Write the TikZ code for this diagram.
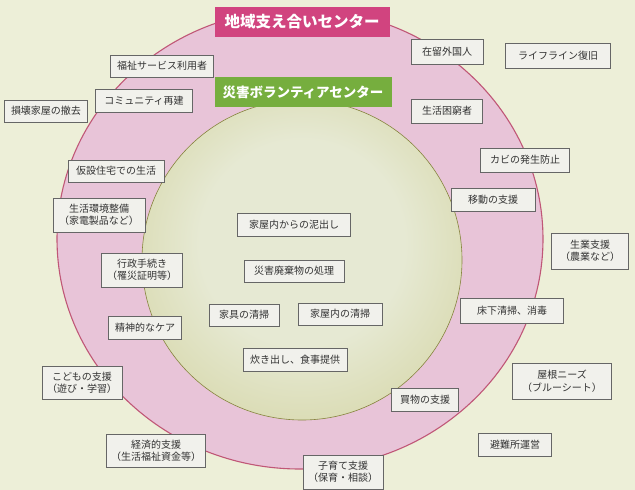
\documentclass[tikz,border=0pt]{standalone}
\usepackage{fontspec}
\setmainfont{Noto Sans CJK JP}
\usetikzlibrary{shadings}
\definecolor{bg}{HTML}{EDEFD8}
\definecolor{ringfill}{HTML}{E8C4D8}
\definecolor{ringline}{HTML}{C05777}
\definecolor{gin}{HTML}{E6E9D3}
\definecolor{gmid}{HTML}{D8D9AE}
\definecolor{gmid2}{HTML}{C3BE7C}
\definecolor{gout}{HTML}{A9A252}
\definecolor{gline}{HTML}{86843E}
\definecolor{magbox}{HTML}{D1447F}
\definecolor{grnbox}{HTML}{76AE3E}
\definecolor{boxfill}{HTML}{F1F1EC}
\definecolor{boxline}{HTML}{666666}
\definecolor{boxtext}{HTML}{333333}
\pgfdeclareradialshading{greenball}{\pgfpoint{0bp}{4bp}}{color(0bp)=(gin); color(16bp)=(gin); color(30bp)=(gmid); color(42bp)=(gmid2); color(50bp)=(gout)}
\tikzset{
  item/.style={draw=boxline, fill=boxfill, line width=0.8pt, text=boxtext,
    font=\fontsize{10}{12.5}\selectfont, align=center, inner sep=0pt},
  titlebox/.style={text=white, inner sep=0pt, font=\bfseries\fontsize{15.5}{18}\selectfont},
}
\begin{document}
\begin{tikzpicture}[x=1pt,y=-1pt]
\useasboundingbox (0,0) rectangle (635,490);
\fill[bg] (0,0) rectangle (635,490);
% outer ring
\draw[ringline, fill=ringfill, line width=1.1pt] (300,239) ellipse [x radius=243, y radius=230];
% inner circle
\shade[shading=greenball] (302,260) circle [radius=160];
\draw[gline, line width=0.6pt] (302,260) circle [radius=160];
% titles
\node[titlebox, fill=magbox, minimum width=175pt, minimum height=30pt] (chiiki) at (302,22) {地域支え合いセンター};
\node[titlebox, fill=grnbox, minimum width=177pt, minimum height=30pt, font=\bfseries\fontsize{13.5}{16}\selectfont] (saigai) at (303,92) {災害ボランティアセンター};
% items
\node[item, minimum width=103pt, minimum height=22pt] (fukushi) at (162,66) {福祉サービス利用者};
\node[item, minimum width=97pt, minimum height=23pt] (community) at (144,101) {コミュニティ再建};
\node[item, minimum width=83pt, minimum height=22pt] (sonkai) at (46,111) {損壊家屋の撤去};
\node[item, minimum width=72pt, minimum height=25pt] (zairyu) at (447,52) {在留外国人};
\node[item, minimum width=105pt, minimum height=25pt] (lifeline) at (558,56) {ライフライン復旧};
\node[item, minimum width=71pt, minimum height=24pt] (konkyu) at (447,111) {生活困窮者};
\node[item, minimum width=89pt, minimum height=24pt] (kabi) at (525,160) {カビの発生防止};
\node[item, minimum width=84pt, minimum height=23pt] (ido) at (493,200) {移動の支援};
\node[item, minimum width=77pt, minimum height=36pt] (nariwai) at (590,251) {生業支援\\（農業など）};
\node[item, minimum width=103pt, minimum height=25pt] (yukashita) at (512,311) {床下清掃、消毒};
\node[item, minimum width=96pt, minimum height=22pt] (kasetsu) at (116,171) {仮設住宅での生活};
\node[item, minimum width=92pt, minimum height=34pt] (kankyo) at (99,215) {生活環境整備\\（家電製品など）};
\node[item, minimum width=81pt, minimum height=34pt] (gyosei) at (142,270) {行政手続き\\（罹災証明等）};
\node[item, minimum width=113pt, minimum height=23pt] (doro) at (294,225) {家屋内からの泥出し};
\node[item, minimum width=100pt, minimum height=22pt] (haiki) at (294,271) {災害廃棄物の処理};
\node[item, minimum width=70pt, minimum height=22pt] (kagu) at (244,315) {家具の清掃};
\node[item, minimum width=84pt, minimum height=22pt] (kaokunai) at (340,314) {家屋内の清掃};
\node[item, minimum width=104pt, minimum height=23pt] (takidashi) at (295,360) {炊き出し、食事提供};
\node[item, minimum width=73pt, minimum height=23pt] (seishin) at (145,328) {精神的なケア};
\node[item, minimum width=80pt, minimum height=33pt] (kodomo) at (82,383) {こどもの支援\\（遊び・学習）};
\node[item, minimum width=99pt, minimum height=33pt] (keizai) at (156,451) {経済的支援\\（生活福祉資金等）};
\node[item, minimum width=99pt, minimum height=36pt] (yane) at (562,381) {屋根ニーズ\\（ブルーシート）};
\node[item, minimum width=67pt, minimum height=23pt] (kaimono) at (425,400) {買物の支援};
\node[item, minimum width=73pt, minimum height=23pt] (hinanjo) at (515,445) {避難所運営};
\node[item, minimum width=80pt, minimum height=34pt] (kosodate) at (343,472) {子育て支援\\（保育・相談）};
\end{tikzpicture}
\end{document}
